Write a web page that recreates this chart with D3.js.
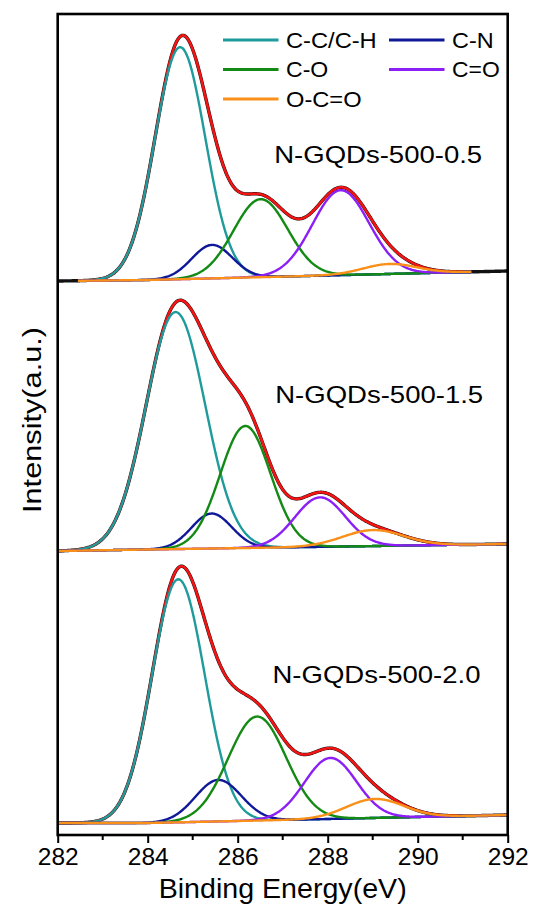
<!DOCTYPE html>
<html>
<head>
<meta charset="utf-8">
<script src="https://cdn.jsdelivr.net/npm/d3@7"></script>
<style>
  body { margin: 0; background: #fff; }
  text { font-family: "Liberation Sans", Arial, sans-serif; fill: #000; }
</style>
</head>
<body>
<svg id="chart" width="534" height="904"></svg>
<script>
// C1s fits for three samples
const energyTicks = [282, 284, 286, 288, 290, 292];
const components = ["C-C/C-H", "C-N", "C-O", "C=O", "O-C=O"];
const compColors = ["#1f9b9b", "#10189a", "#138a13", "#8b1ff5", "#f8901a"];
const sampleNames = ["N-GQDs-500-0.5", "N-GQDs-500-1.5", "N-GQDs-500-2.0"];

// peak centre (eV), height (a.u.), FWHM (eV), component order as above
const peakCenters = [
  [284.72, 285.43, 286.51, 288.29, 289.38],
  [284.62, 285.42, 286.17, 287.83, 289.01],
  [284.68, 285.57, 286.43, 288.06, 289.05]
];
const peakHeights = [
  [232, 33.5, 78, 85, 10],
  [237, 35, 122, 49.5, 16],
  [243, 41.5, 104, 61, 19]
];
const peakFwhm = [
  [1.32, 1.06, 1.42, 1.48, 1.4],
  [1.55, 1.05, 1.32, 1.32, 1.6],
  [1.38, 1.2, 1.51, 1.36, 1.5]
];
// background (eV, a.u.) incl. stacking offset
const baselines = [
  [[282, 554], [284, 555], [292, 564]],
  [[282, 284], [284, 285.5], [292, 291]],
  [[282, 12], [284, 12], [292, 20]]
];
const fitRanges = [[282.45, 291.2], [282, 292], [282, 292]];

let margin = { top: 14, left: 57.7, right: 26.3, bottom: 69 };
let width = 534 - margin.left - margin.right;
let height = 904 - margin.top - margin.bottom;

let svg = d3.select("#chart");
let g = svg.append("g").attr("transform", "translate(" + margin.left + "," + margin.top + ")");

let x = d3.scaleLinear().domain([282, 292]).range([0, width]);
let y = d3.scaleLinear().domain([0, 821]).range([height, 0]);

g.append("clipPath").attr("id", "clip")
  .append("rect").attr("width", width).attr("height", height);

function bg(i, e) {
  let pts = baselines[i];
  for (let k = 1; k < pts.length; k++) {
    if (e <= pts[k][0]) {
      let t = (e - pts[k - 1][0]) / (pts[k][0] - pts[k - 1][0]);
      return pts[k - 1][1] + t * (pts[k][1] - pts[k - 1][1]);
    }
  }
  return pts[pts.length - 1][1];
}
function peak(i, j, e) {
  let s = peakFwhm[i][j] / 2.3548;
  let d = e - peakCenters[i][j];
  return peakHeights[i][j] * Math.exp(-0.5 * d * d / (s * s));
}
function grid(a, b) {
  return d3.range(a, b + 0.0001, 0.02);
}

let line = d3.line().x(d => x(d[0])).y(d => y(d[1]));
let plot = g.append("g").attr("clip-path", "url(#clip)");

sampleNames.forEach((name, i) => {
  let [a, b] = fitRanges[i];
  let total = e => bg(i, e) + d3.sum(components, (c, j) => peak(i, j, e));

  // measured data (black) spans the whole window
  plot.append("path")
    .attr("d", line(grid(282, 292).map(e => [e, total(e)])))
    .attr("fill", "none").attr("stroke", "#111").attr("stroke-width", 3.4);

  // envelope
  plot.append("path")
    .attr("d", line(grid(a, b).map(e => [e, total(e)])))
    .attr("fill", "none").attr("stroke", "#f41414").attr("stroke-width", 2.6);

  components.forEach((c, j) => {
    plot.append("path")
      .attr("d", line(grid(a, b).map(e => [e, bg(i, e) + peak(i, j, e)])))
      .attr("fill", "none").attr("stroke", compColors[j]).attr("stroke-width", 2.4);
  });
});

// sample labels
let labelY = [163, 403, 683];
let labelX = [274.2, 275.2, 272.5];
sampleNames.forEach((name, i) => {
  svg.append("text")
    .attr("x", labelX[i]).attr("y", labelY[i])
    .attr("font-size", 24)
    .attr("textLength", 208).attr("lengthAdjust", "spacingAndGlyphs")
    .text(name);
});

// legend
let legendPos = [[223, 40], [389, 40], [223, 69.5], [389, 69.5], [223, 99]];
let legendWidths = [90.7, 41.6, 42.3, 47.7, 75.6];
components.forEach((c, j) => {
  let [lx, ly] = legendPos[j];
  svg.append("line")
    .attr("x1", lx).attr("x2", lx + 55.5).attr("y1", ly).attr("y2", ly)
    .attr("stroke", compColors[j]).attr("stroke-width", 2.8);
  svg.append("text")
    .attr("x", lx + 63).attr("y", ly + 7.5)
    .attr("font-size", 21.5)
    .attr("textLength", legendWidths[j]).attr("lengthAdjust", "spacingAndGlyphs")
    .text(c);
});

// bottom axis
let xAxis = g.append("g").attr("class", "axis x")
  .attr("transform", "translate(0," + height + ")")
  .call(d3.axisBottom(x).tickValues(energyTicks).tickSize(8).tickFormat(d3.format("d")));
xAxis.select(".domain").remove();
xAxis.selectAll(".tick line").attr("stroke-width", 2);
xAxis.selectAll(".tick text").attr("font-size", 24.5).attr("dy", 0).attr("y", 30)
  .attr("font-family", "Liberation Sans, Arial, sans-serif").attr("fill", "#000");

g.append("g")
  .attr("transform", "translate(0," + height + ")")
  .selectAll("line")
  .data(d3.range(283, 292, 2))
  .enter().append("line")
  .attr("x1", d => x(d)).attr("x2", d => x(d))
  .attr("y1", 0).attr("y2", 5)
  .attr("stroke", "#000").attr("stroke-width", 2);

// frame
g.append("rect")
  .attr("width", width).attr("height", height)
  .attr("fill", "none").attr("stroke", "#000").attr("stroke-width", 2.6);

// axis titles
svg.append("text")
  .attr("x", margin.left + width / 2).attr("y", 898)
  .attr("text-anchor", "middle").attr("font-size", 28)
  .attr("textLength", 248).attr("lengthAdjust", "spacingAndGlyphs")
  .text("Binding Energy(eV)");

svg.append("text")
  .attr("transform", "translate(40.9,420) rotate(-90)")
  .attr("text-anchor", "middle").attr("font-size", 26)
  .attr("textLength", 186).attr("lengthAdjust", "spacingAndGlyphs")
  .text("Intensity(a.u.)");
</script>
</body>
</html>
